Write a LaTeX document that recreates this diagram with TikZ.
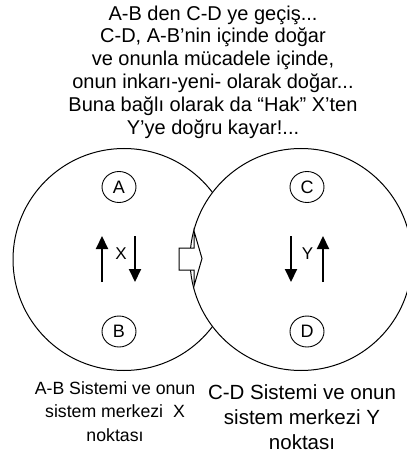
\documentclass[tikz,border=0pt]{standalone}
\usepackage{fontspec}
\setmainfont{Liberation Sans}
\usetikzlibrary{arrows.meta,shapes.geometric}

\tikzset{
  sistem/.style={draw,circle,line width=1pt,fill=white,minimum size=222pt,inner sep=0pt},
  harf/.style={draw,ellipse,line width=0.9pt,minimum width=34pt,minimum height=31pt,inner sep=0pt,font=\fontsize{18}{20}\selectfont},
  yon/.style={line width=2pt,-{Triangle[length=13pt,width=12pt]}},
}

\begin{document}
\begin{tikzpicture}[x=1pt,y=-1pt]
\useasboundingbox (0,0) rectangle (406,454);

\node[align=center,font=\fontsize{20}{22.8}\selectfont] (baslik) at (213,72)
  {A-B den C-D ye geçiş...\\C-D, A-B’nin içinde doğar\\ve onunla mücadele içinde,\\onun inkarı-yeni- olarak doğar...\\Buna bağlı olarak da “Hak” X’ten\\Y’ye doğru kayar!...};

\node[sistem] (ab) at (124,259.5) {};
\node[sistem] (cd) at (301,259.5) {};

\draw[line width=1pt,fill=white] (179,248) -- (194,248) -- (194,231) -- (202,258.5) -- (194,286) -- (194,270) -- (179,270) -- cycle;

\node[harf] (a) at (119,187) {A};
\node[harf] (b) at (119,331.5) {B};
\node[harf] (c) at (307,187) {C};
\node[harf] (d) at (307,331.5) {D};

\node[font=\fontsize{17}{18}\selectfont] (x) at (121,253.5) {X};
\node[font=\fontsize{17}{18}\selectfont] (y) at (307.5,253.5) {Y};

\coordinate (x1) at (102,282); \coordinate (x2) at (102,236);
\coordinate (x3) at (135,236); \coordinate (x4) at (135,282);
\coordinate (y1) at (291,236); \coordinate (y2) at (291,282);
\coordinate (y3) at (323,282); \coordinate (y4) at (323,236);
\draw[yon] (x1) -- (x2);
\draw[yon] (x3) -- (x4);
\draw[yon] (y1) -- (y2);
\draw[yon] (y3) -- (y4);

\node[align=center,font=\fontsize{17.7}{23.5}\selectfont] (abyazi) at (115,411.5)
  {A-B Sistemi ve onun\\sistem merkezi~ X\\noktası};
\node[align=center,font=\fontsize{20.5}{25}\selectfont] (cdyazi) at (302,417)
  {C-D Sistemi ve onun\\sistem merkezi Y\\noktası};
\end{tikzpicture}
\end{document}
